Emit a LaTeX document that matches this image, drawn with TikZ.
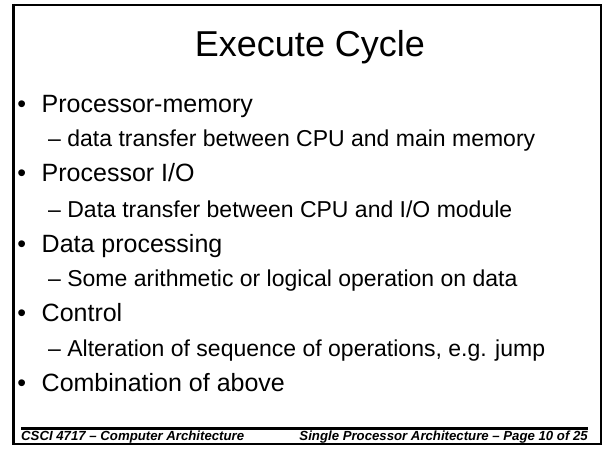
\documentclass[tikz,border=0pt]{standalone}
\usepackage{fontspec}
\setmainfont{Liberation Sans}
\begin{document}
\begin{tikzpicture}[x=1pt,y=-1pt,
  slidetitle/.style={font=\fontsize{36}{43}\selectfont, anchor=base, inner sep=0pt},
  lvlone/.style={font=\fontsize{25}{30}\selectfont, anchor=base west, inner sep=0pt},
  bulletdot/.style={font=\fontsize{25}{30}\selectfont, anchor=base, inner sep=0pt},
  lvltwo/.style={font=\fontsize{23}{27}\selectfont, anchor=base west, inner sep=0pt},
  footnote/.style={font=\fontsize{13.2}{15}\selectfont\bfseries\itshape, inner sep=0pt},
  frameline/.style={line width=2pt, black}]
\useasboundingbox (0,0) rectangle (602,449);
\fill[white] (0,0) rectangle (602,449);

% slide frame
\draw[frameline] (13.5,5) rectangle (600.5,444);
\draw[line width=3pt] (13.5,4) -- (13.5,445);

% title
\node[slidetitle] (title) at (310,56.7) {Execute Cycle};

% bullet list
\node[bulletdot] (d1) at (21.7,113) {•};
\node[lvlone] (i1) at (41.5,113) {Processor-memory};
\node[lvltwo] (s1) at (48,146.5) {– data transfer between CPU and main memory};
\node[bulletdot] (d2) at (21.7,181.7) {•};
\node[lvlone] (i2) at (41.5,181.7) {Processor I/O};
\node[lvltwo] (s2) at (48,217) {– Data transfer between CPU and I/O module};
\node[bulletdot] (d3) at (21.7,252) {•};
\node[lvlone] (i3) at (41.5,252) {Data processing};
\node[lvltwo] (s3) at (48,286.8) {– Some arithmetic or logical operation on data};
\node[bulletdot] (d4) at (21.7,321.5) {•};
\node[lvlone] (i4) at (41.5,321.5) {Control};
\node[lvltwo] (s4) at (48,356.3) {– Alteration of sequence of operations, e.g. jump};
\node[bulletdot] (d5) at (21.7,391) {•};
\node[lvlone] (i5) at (41.5,391) {Combination of above};

% footer
\draw[line width=3pt] (21,428) -- (588,428);
\node[footnote, anchor=base west] (fl) at (21,440.5) {\underline{CSCI 4717 – Computer Architecture}};
\node[footnote, anchor=base east] (fr) at (588,440.5) {\underline{Single Processor Architecture – Page 10 of 25}};
\end{tikzpicture}
\end{document}
